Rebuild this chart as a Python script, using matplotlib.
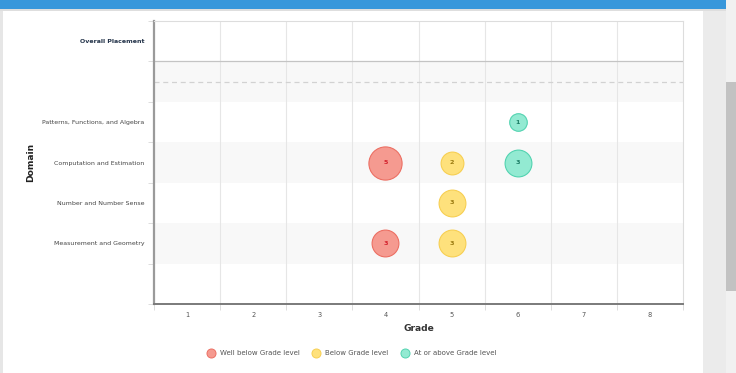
import numpy as np
import matplotlib.pyplot as plt
from matplotlib.patches import Rectangle
from matplotlib.lines import Line2D

# ===============================
# DATA
# ===============================
grades = [1, 2, 3, 4, 5, 6, 7, 8]
rows = ["Overall Placement", "", "Patterns, Functions, and Algebra",
        "Computation and Estimation", "Number and Number Sense",
        "Measurement and Geometry", ""]

# bubbles: grade, row label, count, level
bubble_grade = [6, 4, 5, 6, 5, 4, 5]
bubble_domain = ["Patterns, Functions, and Algebra",
                 "Computation and Estimation", "Computation and Estimation",
                 "Computation and Estimation", "Number and Number Sense",
                 "Measurement and Geometry", "Measurement and Geometry"]
bubble_count = [1, 5, 2, 3, 3, 3, 3]
bubble_level = ["above", "well", "below", "above", "below", "well", "below"]

levels = ["well", "below", "above"]
level_names = ["Well below Grade level", "Below Grade level", "At or above Grade level"]
fill = {"well": "#f59a90", "below": "#fee17c", "above": "#93ead2"}
edge = {"well": "#ec6f63", "below": "#f7cf52", "above": "#52d3b0"}
txt = {"well": "#d3202c", "below": "#9a7a10", "above": "#1b7c64"}

W, H = 736, 373
fig = plt.figure(figsize=(W / 100, H / 100), dpi=100)
fig.patch.set_facecolor("white")

# page chrome
def px_rect(x0, y0, x1, y1, color):
    fig.patches.append(Rectangle((x0 / W, 1 - y1 / H), (x1 - x0) / W, (y1 - y0) / H,
                                 transform=fig.transFigure, facecolor=color,
                                 edgecolor="none", zorder=-5))

px_rect(0, 0, 3, H, "#e6e6e6")
px_rect(703, 0, 726, H, "#ebebeb")
px_rect(726, 0, W, H, "#f1f1f1")
px_rect(726, 82, W, 291, "#c2c2c2")
px_rect(0, 9, 726, 10.5, "#dedede")
px_rect(0, 0, 726, 9, "#3897db")

# ===============================
# AXES
# ===============================
ax = fig.add_axes([154 / W, 1 - 304 / H, (683 - 154) / W, (304 - 21) / H])
ax.set_xlim(0.5, 8.5)
ax.set_ylim(6.5, -0.5)

for i in range(len(rows)):
    if i % 2 == 1:
        ax.axhspan(i - 0.5, i + 0.5, color="#f8f8f8", zorder=0, lw=0)
for g in range(1, 8):
    ax.axvline(g + 0.5, color="#e6e6e6", lw=0.8, zorder=1)
ax.axhline(0.5, color="#c4c4c4", lw=0.9, zorder=1)
ax.axhline(1, color="#d2d2d2", lw=0.9, ls=(0, (4, 3)), zorder=1)

ax.set_xticks(grades)
ax.set_xticklabels([str(g) for g in grades])
ax.set_xticks(np.arange(0.5, 9, 1), minor=True)
ax.set_yticks(range(len(rows)))
ax.set_yticklabels(rows)
ax.set_yticks(np.arange(-0.5, 7, 1), minor=True)

ax.tick_params(axis="x", which="major", length=0, labelsize=4.8, labelcolor="#555555", pad=6)
ax.tick_params(axis="x", which="minor", length=4, width=0.6, color="#d8d8d8")
ax.tick_params(axis="y", which="major", length=0, labelsize=4.5, labelcolor="#444444", pad=7)
ax.tick_params(axis="y", which="minor", length=4, width=0.6, color="#d8d8d8")
ax.get_yticklabels()[0].set_fontweight("bold")
ax.get_yticklabels()[0].set_color("#24344a")

for s in ["top", "right"]:
    ax.spines[s].set_color("#dddddd")
    ax.spines[s].set_linewidth(0.8)
ax.spines["left"].set_color("#9a9a9a")
ax.spines["left"].set_linewidth(1.6)
ax.spines["bottom"].set_color("#7a7a7a")
ax.spines["bottom"].set_linewidth(1.4)

ax.set_xlabel("Grade", fontsize=6.6, fontweight="bold", color="#333333", labelpad=4)
ax.set_ylabel("Domain", fontsize=6.6, fontweight="bold", color="#222222")
ax.yaxis.set_label_coords((35 - 154) / 529, 0.5)

# bubbles
ypos = [rows.index(d) for d in bubble_domain]
radius_px = [6.3 * np.sqrt(c) + 2.5 for c in bubble_count]
sizes = [(2 * r * 0.72) ** 2 for r in radius_px]
for x, y, s, c, lv in zip(bubble_grade, ypos, sizes, bubble_count, bubble_level):
    ax.scatter(x, y, s=s, color=fill[lv], edgecolors=edge[lv], linewidths=0.8, zorder=3)
    ax.text(x, y, str(c), ha="center", va="center", fontsize=4.6,
            fontweight="bold", color=txt[lv], zorder=4)

# legend
handles = [Line2D([], [], marker="o", ls="none", markersize=6.5,
                  markerfacecolor=fill[lv], markeredgecolor=edge[lv], markeredgewidth=0.7)
           for lv in levels]
leg = fig.legend(handles, level_names, loc="center", bbox_to_anchor=(352 / W, 1 - 353 / H),
                 ncol=3, frameon=False, fontsize=5.0, handletextpad=0.8,
                 columnspacing=1.9, handlelength=1.0)
for t in leg.get_texts():
    t.set_color("#555555")

plt.savefig("out.png", dpi=100)
